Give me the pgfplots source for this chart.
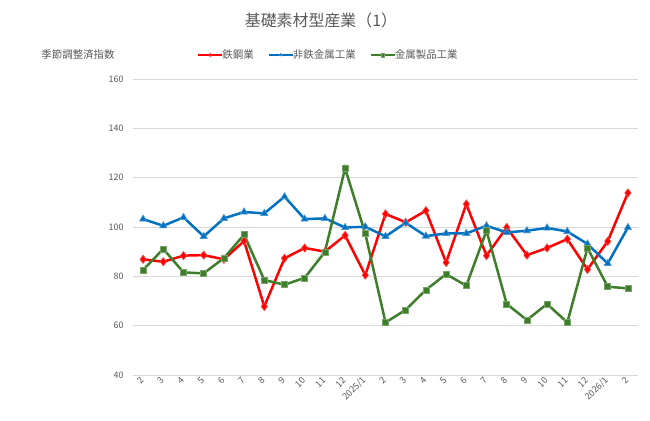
\documentclass[border=0pt]{standalone}
\usepackage{fontspec}
\setmainfont{Noto Sans CJK JP}
\usepackage{pgfplots}
\pgfplotsset{compat=1.18}

\definecolor{steel}{HTML}{FF0000}
\definecolor{nonferrous}{HTML}{0070C0}
\definecolor{metalprod}{HTML}{3E7D2A}
\definecolor{gridgray}{HTML}{D9D9D9}
\definecolor{txtgray}{HTML}{595959}

\begin{document}
\begin{tikzpicture}
\path[use as bounding box] (0,0) rectangle (650bp,421bp);

\begin{axis}[
    at={(133bp,46bp)}, anchor=south west,
    scale only axis, width=505bp, height=296bp,
    xmin=-0.5, xmax=24.5, ymin=40, ymax=160,
    ytick={40,60,...,160},
    xtick={0,...,24},
    xticklabels={2,3,4,5,6,7,8,9,10,11,12,2025/1,2,3,4,5,6,7,8,9,10,11,12,2026/1,2},
    x tick label style={rotate=45, anchor=east, font=\fontsize{9}{10}\selectfont, text=txtgray},
    y tick label style={font=\fontsize{9}{10}\selectfont, text=txtgray},
    /pgf/number format/assume math mode=true,
    major tick length=0pt,
    axis line style={draw=none},
    ymajorgrids, grid style={gridgray, line width=0.8pt},
    yticklabel style={xshift=-6bp},
    xticklabel style={yshift=-2bp},
    legend columns=3,
    legend style={draw=none, fill=none, at={(0.387,1.081)}, anchor=center,
        font=\fontsize{10.5}{12}\selectfont, text=txtgray,
        /tikz/every even column/.append style={column sep=12bp},
        /tikz/every odd column/.append style={column sep=-3bp}},
    legend image code/.code={
        \draw[#1, line width=2.2pt, mark size=1.8pt, mark repeat=2, mark phase=2]
            plot coordinates {(0bp,0bp) (12bp,0bp) (24bp,0bp)};
    },
    every axis plot/.append style={line width=2.5pt},
]
\addplot[steel, mark=diamond*, mark size=4.2pt, mark options={line width=0.6pt, draw=steel!70!white}] coordinates {
(0,86.9) (1,85.9) (2,88.4) (3,88.6) (4,86.9) (5,94.3) (6,67.8) (7,87.3) (8,91.5) (9,90.0)
(10,96.6) (11,80.5) (12,105.3) (13,101.9) (14,106.6) (15,85.6) (16,109.3) (17,88.4) (18,99.8)
(19,88.6) (20,91.5) (21,95.1) (22,82.8) (23,94.2) (24,113.8)
};
\addlegendentry{鉄鋼業}
\addplot[nonferrous, mark=triangle*, mark size=4.2pt, mark options={line width=0.6pt, draw=nonferrous!70!white}] coordinates {
(0,103.2) (1,100.5) (2,103.9) (3,96.2) (4,103.5) (5,106.1) (6,105.5) (7,112.3) (8,103.2) (9,103.5)
(10,99.8) (11,100.1) (12,96.2) (13,101.7) (14,96.3) (15,97.4) (16,97.4) (17,100.5) (18,97.8)
(19,98.5) (20,99.6) (21,98.2) (22,93.1) (23,85.2) (24,99.8)
};
\addlegendentry{非鉄金属工業}
\addplot[metalprod, mark=square*, mark size=3pt, mark options={line width=0.6pt, draw=metalprod!70!white}] coordinates {
(0,82.6) (1,91.1) (2,81.6) (3,81.2) (4,87.4) (5,96.9) (6,78.5) (7,76.6) (8,79.4) (9,89.9)
(10,123.8) (11,97.3) (12,61.3) (13,66.4) (14,74.5) (15,80.9) (16,76.2) (17,98.5) (18,68.8)
(19,62.3) (20,68.8) (21,61.3) (22,91.5) (23,75.8) (24,75.1)
};
\addlegendentry{金属製品工業}
\end{axis}

\node[text=txtgray, font=\fontsize{16}{18}\selectfont] at (321bp,401bp) {基礎素材型産業（1）};
\node[text=txtgray, font=\fontsize{10.5}{12}\selectfont] at (78bp,366bp) {季節調整済指数};
\end{tikzpicture}
\end{document}
